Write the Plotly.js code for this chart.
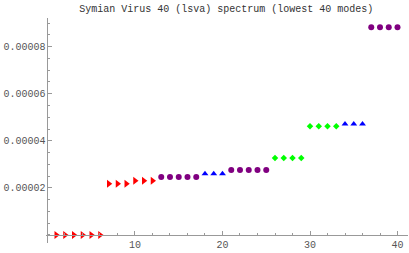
<!DOCTYPE html>
<html>
<head>
<meta charset="utf-8">
<script src="https://cdn.plot.ly/plotly-3.0.1.min.js"></script>
<style>html,body{margin:0;padding:0;background:#fff;}#chart{width:409px;height:253px;}</style>
</head>
<body>
<div id="chart"></div>
<script>
// Mode numbers and eigenvalues, grouped by marker series
const redModes = [1, 2, 3, 4, 5, 6, 7, 8, 9, 10, 11, 12];
const redValues = [0, 0, 0, 0, 0, 0, 2.178e-5, 2.178e-5, 2.178e-5, 2.306e-5, 2.306e-5, 2.306e-5];

const purpleModes = [13, 14, 15, 16, 17, 21, 22, 23, 24, 25, 37, 38, 39, 40];
const purpleValues = [2.463e-5, 2.463e-5, 2.463e-5, 2.463e-5, 2.463e-5,
                      2.76e-5, 2.76e-5, 2.76e-5, 2.76e-5, 2.76e-5,
                      8.82e-5, 8.82e-5, 8.82e-5, 8.82e-5];

const blueModes = [18, 19, 20, 34, 35, 36];
const blueValues = [2.603e-5, 2.603e-5, 2.603e-5, 4.71e-5, 4.71e-5, 4.71e-5];

const greenModes = [26, 27, 28, 29, 30, 31, 32, 33];
const greenValues = [3.27e-5, 3.27e-5, 3.27e-5, 3.27e-5, 4.616e-5, 4.616e-5, 4.616e-5, 4.616e-5];

const xTickVals = [10, 20, 30, 40];
const yTickVals = [0.00002, 0.00004, 0.00006, 0.00008];
const yTickText = ['0.00002', '0.00004', '0.00006', '0.00008'];
const titleText = 'Symian Virus 40 (lsva) spectrum (lowest 40 modes)';

const mono = 'Liberation Mono, Courier New, monospace';

function series(x, y, symbol, color, size) {
  return {x: x, y: y, type: 'scatter', mode: 'markers',
    marker: {symbol: symbol, color: color, size: size, line: {width: 0}},
    hoverinfo: 'skip', cliponaxis: false};
}

const data = [
  series(redModes, redValues, 'triangle-right', '#ff0000', 7),
  series(purpleModes, purpleValues, 'circle', '#800080', 6),
  series(blueModes, blueValues, 'triangle-up', '#0000ff', 6),
  series(greenModes, greenValues, 'diamond', '#00ff00', 5)
];

const xRange = [-0.17, 41.2];
const yRange = [-0.34e-5, 9.214e-5];

const layout = {
  width: 409, height: 253,
  margin: {l: 46, r: 1, t: 18, b: 10, pad: 0},
  paper_bgcolor: '#fff', plot_bgcolor: '#fff',
  showlegend: false,
  title: {text: titleText, font: {family: mono, size: 10, color: '#333'},
          x: 0.553, xanchor: 'center', y: 0.965, yanchor: 'middle'},
  xaxis: {
    range: xRange, anchor: 'free',
    position: (0 - yRange[0]) / (yRange[1] - yRange[0]),
    showgrid: false, zeroline: false, showline: true, linecolor: '#999', linewidth: 1,
    tickmode: 'array', tickvals: xTickVals, ticktext: xTickVals.map(String),
    ticks: 'inside', ticklen: 4, tickcolor: '#999', tickwidth: 1,
    minor: {ticks: 'inside', ticklen: 2, tickcolor: '#999', dtick: 2, tick0: 0, showgrid: false},
    tickfont: {family: mono, size: 10, color: '#555'}, automargin: false
  },
  yaxis: {
    range: yRange, anchor: 'free',
    position: (0 - xRange[0]) / (xRange[1] - xRange[0]),
    showgrid: false, zeroline: false, showline: true, linecolor: '#999', linewidth: 1,
    tickmode: 'array', tickvals: yTickVals, ticktext: yTickText,
    ticks: 'inside', ticklen: 4, tickcolor: '#999', tickwidth: 1,
    minor: {ticks: 'inside', ticklen: 2, tickcolor: '#999', dtick: 0.000005, tick0: 0, showgrid: false},
    tickfont: {family: mono, size: 10, color: '#555'}, automargin: false
  }
};

Plotly.newPlot('chart', data, layout, {staticPlot: true, displayModeBar: false});
</script>
</body>
</html>
